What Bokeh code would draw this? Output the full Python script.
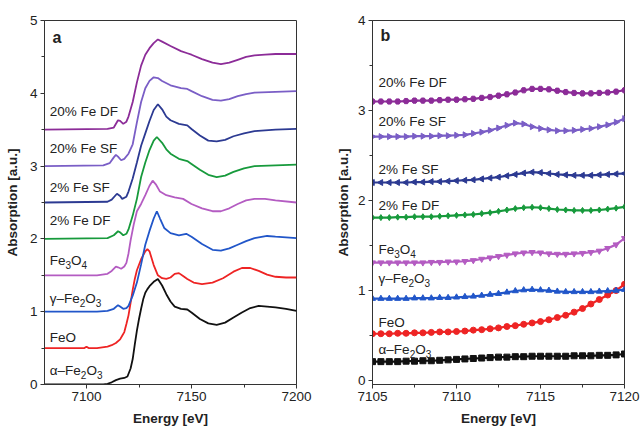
from bokeh.plotting import figure
from bokeh.layouts import row
from bokeh.models import FixedTicker, Label, Range1d
from bokeh.embed import file_html
from bokeh.resources import INLINE

FONT = "Liberation Sans"
TXT = "#222222"
AX = "#333333"

# ---------------- data: panel a (normalised XANES, stacked with offsets) -------------
# names as segments: (text, is_subscript)
names = [
    [("α–Fe", False), ("2", True), ("O", False), ("3", True)],
    [("FeO", False)],
    [("γ–Fe", False), ("2", True), ("O", False), ("3", True)],
    [("Fe", False), ("3", True), ("O", False), ("4", True)],
    [("2% Fe DF", False)],
    [("2% Fe SF", False)],
    [("20% Fe SF", False)],
    [("20% Fe DF", False)],
]
offsets_a = [0.0, 0.5, 1.0, 1.5, 2.0, 2.5, 3.0, 3.5]
colors = ["#111111", "#ee2424", "#2156c9", "#b45cc2", "#179a3c", "#2c3a92", "#7a5ec6", "#8c2c98"]

alpha_E = [7080, 7100, 7108, 7110, 7112, 7114, 7116, 7118, 7119.5, 7121, 7122, 7123, 7124, 7125, 7126, 7127, 7128, 7129, 7130, 7132,
           7134, 7136, 7138, 7140, 7142, 7145, 7148, 7150, 7154, 7158, 7162, 7166, 7170, 7174, 7178, 7182, 7186, 7190, 7195, 7200]
alpha_A = [0.0, 0.0, 0.0, 0.01, 0.03, 0.06, 0.08, 0.09, 0.11, 0.22, 0.35, 0.55, 0.74, 0.90, 1.04, 1.17, 1.26, 1.31, 1.35, 1.41,
           1.45, 1.36, 1.24, 1.14, 1.07, 1.04, 1.03, 0.99, 0.90, 0.84, 0.82, 0.85, 0.92, 0.99, 1.05, 1.08, 1.07, 1.06, 1.04, 1.01]

feo_E = [7080, 7099, 7100, 7101, 7105, 7110, 7112, 7114, 7116, 7117, 7118, 7119, 7120, 7121, 7122, 7123, 7124, 7126, 7128, 7129,
         7130, 7132, 7134, 7136, 7138, 7140, 7142, 7144, 7146, 7148, 7151, 7155, 7160, 7165, 7170, 7174, 7178, 7182, 7186, 7190,
         7195, 7200]
feo_A = [0.0, 0.0, 0.02, 0.0, 0.0, 0.02, 0.04, 0.07, 0.12, 0.17, 0.22, 0.33, 0.45, 0.62, 0.80, 0.95, 1.07, 1.22, 1.33, 1.36,
         1.33, 1.14, 1.00, 0.96, 0.95, 0.97, 1.02, 1.03, 0.99, 0.95, 0.90, 0.88, 0.90, 0.96, 1.05, 1.10, 1.10, 1.06, 1.01, 0.98,
         0.97, 0.97]

gam_E = [7080, 7105, 7110, 7113, 7115, 7116, 7117.5, 7119, 7120, 7122, 7124, 7126, 7128, 7130, 7132, 7133.5, 7135, 7137, 7140, 7144,
         7147.5, 7150, 7155, 7160, 7164, 7168, 7172, 7176, 7180, 7186, 7190, 7200]
gam_A = [0.0, 0.0, 0.01, 0.04, 0.09, 0.07, 0.04, 0.05, 0.08, 0.22, 0.40, 0.65, 0.92, 1.11, 1.28, 1.38, 1.28, 1.15, 1.08, 1.05,
         1.07, 1.03, 0.93, 0.85, 0.84, 0.87, 0.92, 0.97, 1.01, 1.04, 1.03, 1.01]

fe3_E = [7080, 7105, 7110, 7112, 7114, 7115, 7116.5, 7118, 7119, 7120, 7121, 7122.5, 7124, 7126, 7128, 7130, 7131.5, 7133, 7135, 7138,
         7142, 7146, 7150, 7155, 7160, 7164, 7168, 7172, 7176, 7180, 7185, 7190, 7200]
fe3_A = [0.0, 0.0, 0.02, 0.06, 0.12, 0.11, 0.09, 0.12, 0.17, 0.30, 0.48, 0.70, 0.88, 0.98, 1.10, 1.23, 1.30, 1.25, 1.15, 1.10,
         1.07, 1.05, 0.98, 0.92, 0.88, 0.88, 0.92, 0.98, 1.03, 1.05, 1.05, 1.03, 1.00]

df2_E = [7080, 7110, 7113, 7115, 7116, 7117.5, 7119, 7120, 7122, 7124, 7126, 7128, 7130, 7132, 7133.5, 7136, 7138, 7140, 7144, 7148,
         7150, 7154, 7158, 7162, 7166, 7170, 7175, 7180, 7190, 7200]
df2_A = [0.0, 0.01, 0.05, 0.105, 0.09, 0.05, 0.07, 0.13, 0.32, 0.55, 0.85, 1.05, 1.22, 1.35, 1.40, 1.32, 1.23, 1.17, 1.10, 1.07,
         1.03, 0.95, 0.88, 0.85, 0.87, 0.92, 0.97, 1.00, 1.01, 1.02]

sf2_E = [7080, 7110, 7112, 7114.5, 7116, 7117, 7119, 7120, 7122, 7124, 7126, 7128, 7130, 7132, 7134, 7136, 7138, 7140, 7144, 7148,
         7150, 7154, 7158, 7162, 7166, 7170, 7175, 7180, 7190, 7200]
sf2_A = [0.0, 0.01, 0.04, 0.12, 0.09, 0.05, 0.08, 0.15, 0.33, 0.55, 0.78, 0.95, 1.12, 1.27, 1.35, 1.28, 1.18, 1.13, 1.08, 1.06,
         1.01, 0.92, 0.85, 0.84, 0.86, 0.91, 0.95, 0.98, 1.00, 1.01]

sf20_E = [7080, 7108, 7111, 7113, 7114, 7115, 7116.5, 7118, 7120, 7122, 7124, 7126, 7128, 7130, 7132, 7134, 7136, 7140, 7145, 7148,
          7150, 7155, 7160, 7164, 7168, 7172, 7176, 7180, 7190, 7200]
sf20_A = [0.0, 0.01, 0.04, 0.12, 0.155, 0.13, 0.08, 0.10, 0.17, 0.30, 0.60, 0.88, 1.07, 1.17, 1.22, 1.21, 1.17, 1.11, 1.07, 1.06,
          1.03, 0.96, 0.91, 0.90, 0.92, 0.96, 0.99, 1.01, 1.02, 1.03]

df20_E = [7080, 7110, 7113, 7115, 7116, 7117.5, 7119, 7120, 7122, 7124, 7126, 7128, 7130, 7132, 7134, 7136, 7140, 7145, 7148, 7150,
          7155, 7160, 7164, 7168, 7172, 7176, 7180, 7185, 7190, 7200]
df20_A = [0.0, 0.01, 0.03, 0.13, 0.12, 0.08, 0.11, 0.18, 0.38, 0.65, 0.88, 1.03, 1.12, 1.19, 1.24, 1.21, 1.15, 1.08, 1.05, 1.03,
          0.97, 0.92, 0.90, 0.92, 0.96, 1.00, 1.02, 1.03, 1.04, 1.04]

energies_a = [alpha_E, feo_E, gam_E, fe3_E, df2_E, sf2_E, sf20_E, df20_E]
spectra_a = [alpha_A, feo_A, gam_A, fe3_A, df2_A, sf2_A, sf20_A, df20_A]

xticks_a = [7100, 7150, 7200]
yticks_a = [0, 1, 2, 3, 4, 5]

# ---------------- data: panel b (pre-edge region) -------------
E_b = [7105.0, 7105.5, 7106.0, 7106.5, 7107.0, 7107.5, 7108.0, 7108.5, 7109.0, 7109.5, 7110.0,
       7110.5, 7111.0, 7111.5, 7112.0, 7112.5, 7113.0, 7113.5, 7114.0, 7114.5, 7115.0,
       7115.5, 7116.0, 7116.5, 7117.0, 7117.5, 7118.0, 7118.5, 7119.0, 7119.5, 7120.0]
alpha_b = [0.21, 0.21, 0.21, 0.21, 0.215, 0.215, 0.22, 0.22, 0.225, 0.23, 0.235, 0.24, 0.245, 0.25, 0.255, 0.26,
           0.26, 0.265, 0.265, 0.27, 0.27, 0.27, 0.27, 0.27, 0.275, 0.275, 0.275, 0.28, 0.28, 0.285, 0.295]
feo_b = [0.52, 0.52, 0.52, 0.525, 0.525, 0.53, 0.53, 0.535, 0.54, 0.54, 0.545, 0.55, 0.56, 0.565, 0.575, 0.585,
         0.60, 0.61, 0.625, 0.64, 0.655, 0.675, 0.70, 0.725, 0.76, 0.80, 0.85, 0.90, 0.95, 1.00, 1.07]
gam_b = [0.91, 0.91, 0.91, 0.91, 0.91, 0.915, 0.915, 0.915, 0.92, 0.92, 0.925, 0.93, 0.935, 0.945, 0.955, 0.965,
         0.98, 0.995, 1.005, 1.01, 1.005, 1.0, 0.99, 0.985, 0.985, 0.985, 0.985, 0.99, 0.995, 1.0, 1.01]
fe3_b = [1.31, 1.31, 1.31, 1.31, 1.31, 1.31, 1.31, 1.315, 1.315, 1.32, 1.32, 1.325, 1.335, 1.35, 1.365, 1.38,
         1.395, 1.41, 1.42, 1.425, 1.42, 1.41, 1.405, 1.405, 1.41, 1.415, 1.425, 1.44, 1.47, 1.51, 1.58]
df2_b = [1.81, 1.81, 1.81, 1.815, 1.815, 1.82, 1.82, 1.82, 1.825, 1.83, 1.835, 1.84, 1.845, 1.855, 1.865, 1.88,
         1.895, 1.91, 1.92, 1.925, 1.92, 1.91, 1.90, 1.895, 1.89, 1.89, 1.89, 1.895, 1.905, 1.915, 1.93]
sf2_b = [2.20, 2.20, 2.20, 2.20, 2.20, 2.205, 2.205, 2.21, 2.21, 2.215, 2.22, 2.225, 2.23, 2.24, 2.25, 2.26,
         2.275, 2.29, 2.305, 2.315, 2.31, 2.30, 2.29, 2.285, 2.28, 2.28, 2.28, 2.285, 2.29, 2.295, 2.30]
sf20_b = [2.71, 2.71, 2.71, 2.71, 2.71, 2.715, 2.715, 2.715, 2.72, 2.72, 2.725, 2.73, 2.745, 2.76, 2.78, 2.805,
          2.835, 2.86, 2.85, 2.82, 2.80, 2.785, 2.775, 2.775, 2.78, 2.79, 2.80, 2.82, 2.84, 2.87, 2.91]
df20_b = [3.10, 3.10, 3.10, 3.10, 3.105, 3.11, 3.11, 3.11, 3.115, 3.12, 3.12, 3.125, 3.13, 3.14, 3.15, 3.165,
          3.18, 3.20, 3.225, 3.24, 3.24, 3.235, 3.22, 3.205, 3.195, 3.19, 3.19, 3.195, 3.20, 3.21, 3.225]
spectra_b = [alpha_b, feo_b, gam_b, fe3_b, df2_b, sf2_b, sf20_b, df20_b]
markers_b = ["square", "circle", "triangle", "inverted_triangle", "diamond", "triangle", "triangle", "hex"]
marker_angle_b = [0, 0, 0, 0, 0, 1.5708, -1.5708, 0]

xticks_b = [7105, 7110, 7115, 7120]
yticks_b = [0, 1, 2, 3, 4]

MAIN_PX = 13.5
SUB_PX = 10.0
# approximate Arial/Liberation Sans advance widths (em)
CHAR_W = {"α": 0.58, "γ": 0.50, "–": 0.556, "F": 0.611, "e": 0.556, "O": 0.778}


def seg_width(text, px):
    return sum(CHAR_W.get(ch, 0.556) for ch in text) * px


def style(p, xt, xminor, yt, yminor, ylab_standoff):
    p.xaxis.ticker = FixedTicker(ticks=xt, minor_ticks=xminor)
    p.yaxis.ticker = FixedTicker(ticks=yt, minor_ticks=yminor)
    p.xgrid.visible = False
    p.ygrid.visible = False
    for ax in (p.xaxis[0], p.yaxis[0]):
        ax.axis_line_color = AX
        ax.major_tick_line_color = AX
        ax.minor_tick_line_color = AX
        ax.major_tick_in = 0
        ax.major_tick_out = 4
        ax.minor_tick_in = 0
        ax.minor_tick_out = 3
        ax.major_label_text_font = FONT
        ax.major_label_text_font_size = "13.5px"
        ax.major_label_text_color = TXT
        ax.major_label_standoff = 3
        ax.axis_label_text_font = FONT
        ax.axis_label_text_font_size = "13.5px"
        ax.axis_label_text_font_style = "bold"
        ax.axis_label_text_color = TXT
    p.xaxis[0].axis_label_standoff = 7
    p.yaxis[0].axis_label_standoff = ylab_standoff
    p.outline_line_color = AX
    p.outline_line_width = 1
    p.background_fill_color = "white"
    p.border_fill_color = "white"


def add_label(p, x, y, text, size="13.5px", bold=False, x_off=0.0, y_off=0.0):
    p.add_layout(Label(x=x, y=y, text=text, text_font=FONT, text_font_size=size,
                       text_font_style="bold" if bold else "normal", text_color=TXT,
                       text_baseline="middle", text_align="left",
                       x_offset=x_off, y_offset=y_off))


def add_name(p, x, y, segments):
    xo = 0.0
    for text, sub in segments:
        if sub:
            add_label(p, x, y, text, size=f"{SUB_PX}px", x_off=xo, y_off=-4.5)
            xo += seg_width(text, SUB_PX)
        else:
            add_label(p, x, y, text, size=f"{MAIN_PX}px", x_off=xo)
            xo += seg_width(text, MAIN_PX)


# ---------------- panel a -------------
pa = figure(width=330, height=430, output_backend="svg", toolbar_location=None,
            x_range=Range1d(7080, 7200), y_range=Range1d(0, 5),
            min_border_left=44, min_border_right=34, min_border_top=20, min_border_bottom=46,
            x_axis_label="Energy [eV]", y_axis_label="Absorption [a.u.]")
style(pa, xticks_a, [7125, 7175], yticks_a, [0.5, 1.5, 2.5, 3.5, 4.5], 7)
for E, A, off, c in zip(energies_a, spectra_a, offsets_a, colors):
    pa.line(E, [a + off for a in A], line_color=c, line_width=1.8)

label_y_a = [0.19, 0.65, 1.18, 1.70, 2.25, 2.71, 3.24, 3.755]
for n, ly in zip(names, label_y_a):
    add_name(pa, 7082.5, ly, n)
add_label(pa, 7083.8, 4.77, "a", size="16px", bold=True)

# ---------------- panel b -------------
pb = figure(width=311, height=430, output_backend="svg", toolbar_location=None,
            x_range=Range1d(7105, 7120), y_range=Range1d(-0.044, 4),
            min_border_left=42, min_border_right=17, min_border_top=20, min_border_bottom=46,
            x_axis_label="Energy [eV]", y_axis_label="Absorption [a.u.]")
style(pb, xticks_b, [7107.5, 7112.5, 7117.5], yticks_b, [0.5, 1.5, 2.5, 3.5], 4)
for A, c, m, ang in zip(spectra_b, colors, markers_b, marker_angle_b):
    pb.line(E_b, A, line_color=c, line_width=2.2)
    pb.scatter(E_b, A, marker=m, angle=ang, size=6, fill_color=c, line_color=c)

label_y_b = [0.345, 0.65, 1.13, 1.46, 1.94, 2.34, 2.88, 3.31]
for n, ly in zip(names, label_y_b):
    add_name(pb, 7105.36, ly, n)
add_label(pb, 7105.48, 3.83, "b", size="16px", bold=True)

layout = row(pa, pb)
open("out.html", "w").write(file_html(layout, INLINE))
